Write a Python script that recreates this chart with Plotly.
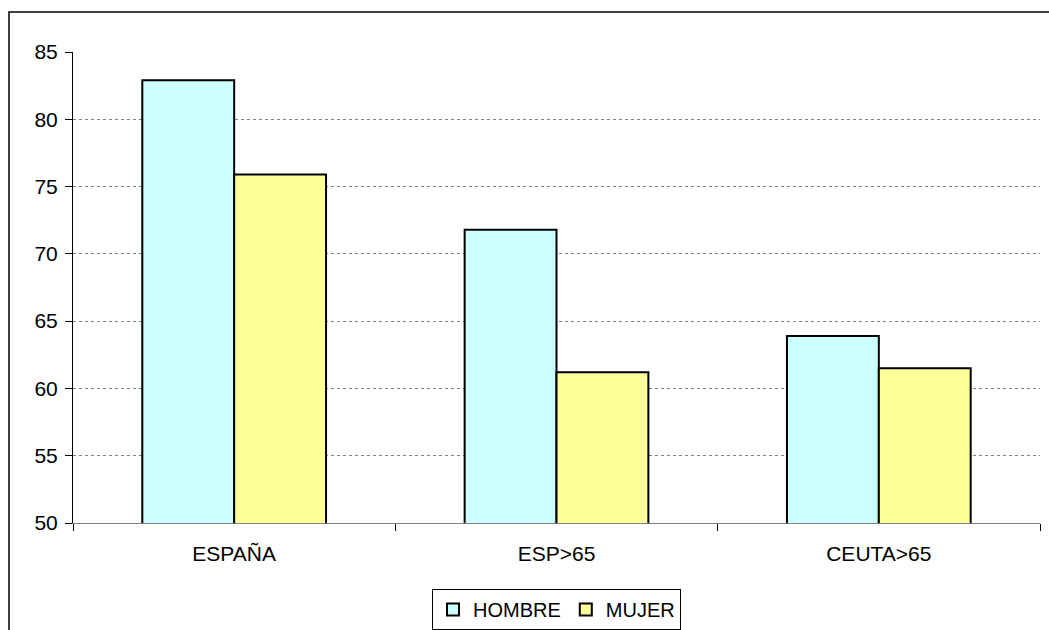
import plotly.graph_objects as go

categories = ["ESPAÑA", "ESP>65", "CEUTA>65"]
hombre = [82.9, 71.8, 63.9]
mujer = [75.9, 61.2, 61.5]
y_ticks = [50, 55, 60, 65, 70, 75, 80, 85]

W, H = 1049, 630
ml, mr, mt, mb = 73, 9, 52, 107
pw = W - ml - mr
ph = H - mt - mb

font = dict(family="Liberation Sans, Arial, sans-serif", size=21, color="#000000")
legend_font = dict(family="Liberation Sans, Arial, sans-serif", size=20, color="#000000")

fig = go.Figure()
fig.add_trace(go.Bar(name="HOMBRE", x=categories, y=hombre,
                     marker=dict(color="#CCFFFF", line=dict(color="#000000", width=2))))
fig.add_trace(go.Bar(name="MUJER", x=categories, y=mujer,
                     marker=dict(color="#FFFF99", line=dict(color="#000000", width=2))))

# outer chart border (pixel -> paper coords)
bx0 = (9 - ml) / pw
by1 = 1 + (mt - 12) / ph
fig.add_shape(type="rect", xref="paper", yref="paper",
              x0=bx0, x1=1.2, y0=-0.5, y1=by1,
              line=dict(color="#000000", width=1.5), layer="below")

fig.update_layout(
    width=W, height=H,
    margin=dict(l=ml, r=mr, t=mt, b=mb, autoexpand=False),
    paper_bgcolor="#FFFFFF", plot_bgcolor="#FFFFFF",
    font=font,
    barmode="group", bargap=0.43, bargroupgap=0,
    showlegend=True,
    legend=dict(orientation="h", x=0.5, xanchor="center",
                yref="container", y=(H - 589) / H, yanchor="top",
                bordercolor="#000000", borderwidth=1, font=legend_font,
                itemwidth=30, tracegroupgap=0),
)
fig.update_xaxes(type="category", showline=True, linecolor="#808080", linewidth=1,
                 ticks="outside", tickson="boundaries", ticklen=7, tickcolor="#000000",
                 showgrid=False, tickfont=font, ticklabelstandoff=12, automargin=False)
fig.update_yaxes(range=[50, 85], tickvals=y_ticks, showline=True, linecolor="#000000",
                 linewidth=1, ticks="outside", ticklen=7, tickcolor="#000000",
                 showgrid=True, gridcolor="#808080", griddash="dot", gridwidth=1,
                 zeroline=False, tickfont=font, ticklabelstandoff=3, automargin=False)

fig.write_html("out.html")
